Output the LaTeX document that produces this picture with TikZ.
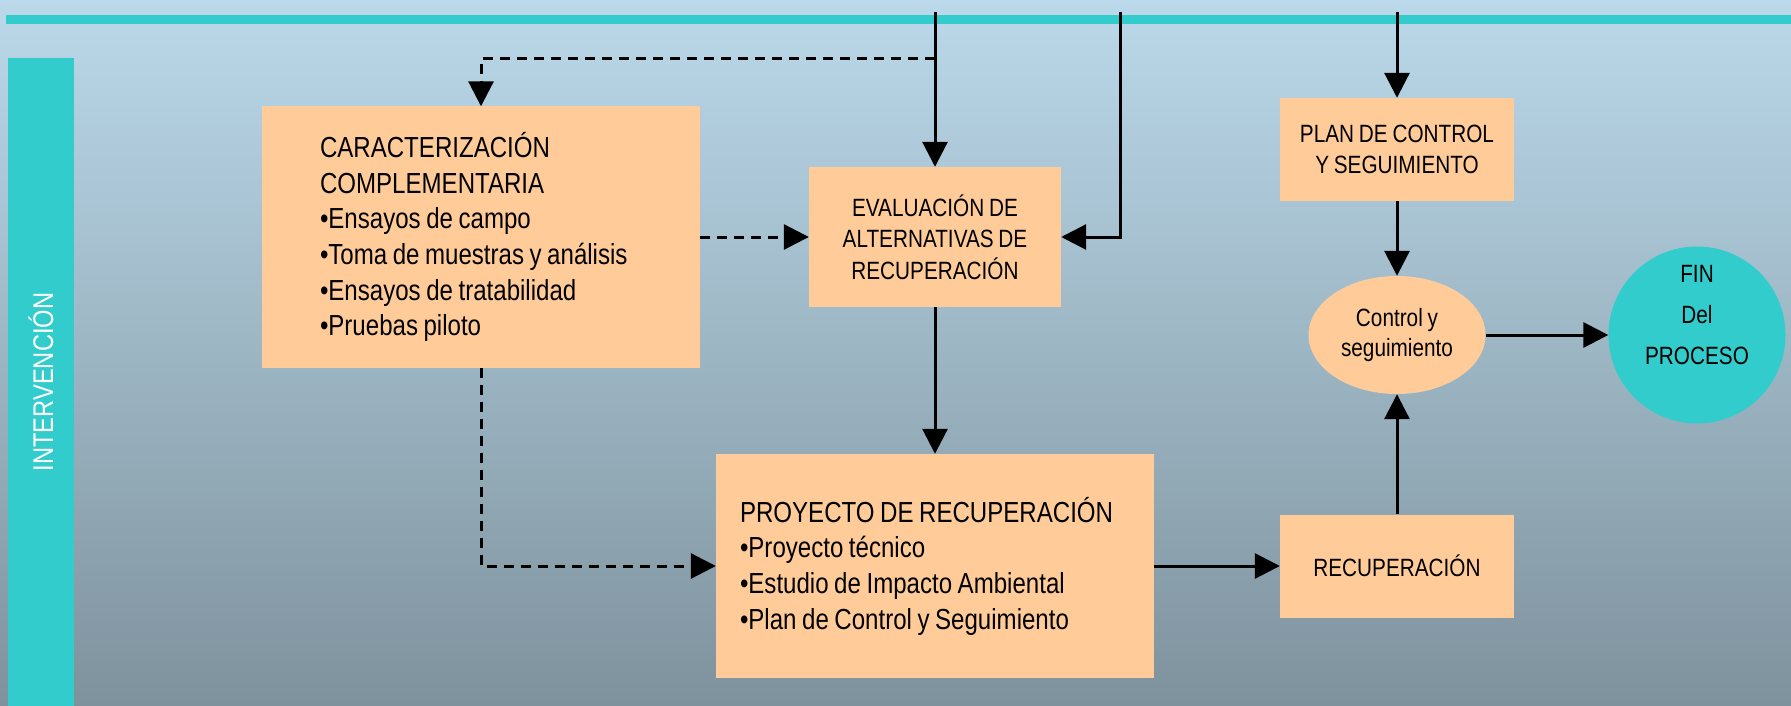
\documentclass[tikz,border=0pt]{standalone}
\usepackage{fontspec}
\setmainfont{Liberation Sans}[FakeStretch=0.83,WordSpace=0.83]
\usepackage{tikz}
\usetikzlibrary{shapes.geometric}
\usetikzlibrary{arrows.meta}

\definecolor{skytop}{HTML}{BBD9EA}
\definecolor{skybot}{HTML}{7E929D}
\definecolor{tealbar}{HTML}{33CCCC}
\definecolor{peach}{HTML}{FFCC99}

\tikzset{
  box/.style={fill=peach,inner sep=0pt,align=center,font=\fontsize{25}{31.5}\selectfont},
  listbox/.style={box,align=flush left,font=\fontsize{29}{35.7}\selectfont},
  arrow/.style={line width=3pt,-{Triangle[length=25pt,width=25pt]}},
  dashline/.style={dash pattern=on 10pt off 7pt}
}

\begin{document}
\begin{tikzpicture}[x=1pt,y=-1pt]
  \shade[top color=skytop,bottom color=skybot] (0,0) rectangle (1791,706);
  \fill[tealbar] (6,15) rectangle (1791,24);
  \node[fill=tealbar,rotate=90,minimum width=648pt,minimum height=66pt,inner sep=0pt,
        text=white,font=\fontsize{28.5}{30}\selectfont] (side) at (41,382) {INTERVENCIÓN};

  \node[listbox,minimum width=438pt,minimum height=261pt,text width=322pt,inner xsep=58pt] (caract) at (481,237)
    {CARACTERIZACIÓN\\COMPLEMENTARIA\\•Ensayos de campo\\•Toma de muestras y análisis\\•Ensayos de tratabilidad\\•Pruebas piloto};
  \node[box,minimum width=252pt,minimum height=140pt] (eval) at (935,237)
    {EVALUACIÓN DE\\ALTERNATIVAS DE\\RECUPERACIÓN};
  \node[listbox,minimum width=438pt,minimum height=224pt,text width=390pt,inner xsep=24pt] (proy) at (935,566)
    {PROYECTO DE RECUPERACIÓN\\•Proyecto técnico\\•Estudio de Impacto Ambiental\\•Plan de Control y Seguimiento};
  \node[box,minimum width=234pt,minimum height=103pt] (plan) at (1397,149.5)
    {PLAN DE CONTROL\\Y SEGUIMIENTO};
  \node[box,minimum width=234pt,minimum height=103pt] (recup) at (1397,566)
    {RECUPERACIÓN};
  \node[box,ellipse,minimum width=177pt,minimum height=118pt,font=\fontsize{25}{30}\selectfont] (ctrl) at (1397,335)
    {Control y\\seguimiento};
  \node[box,circle,fill=tealbar,minimum size=177pt,font=\fontsize{25}{41}\selectfont] (fin) at (1697,335)
    {FIN\\Del\\PROCESO\\\mbox{}};

  \coordinate (t1) at (935,12);
  \coordinate (t2) at (1120,12);
  \coordinate (t3) at (1397,12);
  \coordinate (b1) at (935,59);

  \path[arrow]
    (t1) edge (eval)
    (t3) edge (plan)
    (eval) edge (proy)
    (proy) edge (recup)
    (recup) edge (ctrl)
    (plan) edge (ctrl)
    (ctrl) edge (fin);
  \draw[arrow] (t2) |- (eval);
  \draw[arrow,dashline] (b1) -| (caract);
  \path[arrow,dashline] (caract) edge (eval);
  \draw[arrow,dashline] (caract) |- (proy);
\end{tikzpicture}
\end{document}
